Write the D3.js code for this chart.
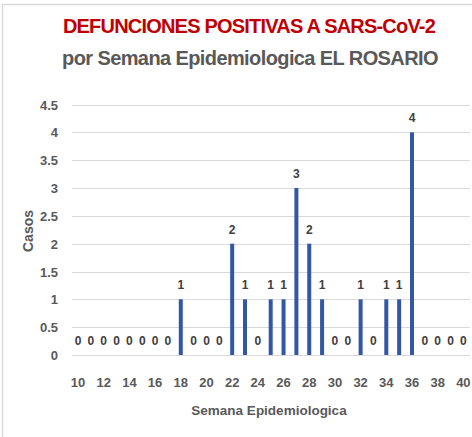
<!DOCTYPE html>
<html>
<head>
<meta charset="utf-8">
<script src="https://cdn.jsdelivr.net/npm/d3@7"></script>
<style>
  html, body { margin: 0; padding: 0; background: #fff; }
  svg { display: block; }
  text { font-family: "Liberation Sans", "DejaVu Sans", sans-serif; }
</style>
</head>
<body>
<svg id="chart" width="472" height="437"></svg>
<script>
// Semanas epidemiológicas y defunciones por semana
const weeks = d3.range(10, 41);
const deaths = [0,0,0,0,0,0,0,0,1,0,0,0,2,1,0,1,1,3,2,1,0,0,1,0,1,1,4,0,0,0,0];
const yTicks = [0,0.5,1,1.5,2,2.5,3,3.5,4,4.5];
const xTickLabels = d3.range(10, 41, 2);

const titleLine1 = "DEFUNCIONES POSITIVAS A SARS-CoV-2";
const titleLine2 = "por Semana Epidemiologica EL ROSARIO";
const xTitle = "Semana Epidemiologica";
const yTitle = "Casos";

const svg = d3.select("#chart");
const W = 472, H = 437;

// marco del gráfico
svg.append("path")
  .attr("d", `M2.5,${H} V4.5 H${W}`)
  .attr("fill", "none").attr("stroke", "#d9d9d9").attr("stroke-width", 1.5);

const x = d3.scaleBand().domain(weeks).range([71.6, 469.8]);
const y = d3.scaleLinear().domain([0, 4.5]).range([355, 104.5]);

// líneas de cuadrícula
svg.append("g").selectAll("line").data(yTicks).join("line")
  .attr("x1", 72).attr("x2", 470)
  .attr("y1", d => Math.round(y(d)) + 0.5).attr("y2", d => Math.round(y(d)) + 0.5)
  .attr("stroke", "#d9d9d9").attr("stroke-width", 1);

// etiquetas del eje Y
svg.append("g").selectAll("text").data(yTicks).join("text")
  .attr("x", 58).attr("y", d => y(d) + 5)
  .attr("text-anchor", "end")
  .attr("font-size", 13).attr("font-weight", "bold").attr("fill", "#595959")
  .text(d => d);

// etiquetas del eje X (semanas pares)
svg.append("g").selectAll("text").data(xTickLabels).join("text")
  .attr("x", d => x(d) + x.bandwidth() / 2).attr("y", 387)
  .attr("text-anchor", "middle")
  .attr("font-size", 13).attr("font-weight", "bold").attr("fill", "#595959")
  .text(d => d);

// barras
const bw = 4;
svg.append("g").selectAll("rect").data(weeks.map((w, i) => ({w, v: deaths[i]}))).join("rect")
  .attr("x", d => x(d.w) + x.bandwidth() / 2 - bw / 2)
  .attr("width", bw)
  .attr("y", d => y(d.v))
  .attr("height", d => y(0) - y(d.v))
  .attr("fill", "#3157a6");

// etiquetas de datos
svg.append("g").selectAll("text").data(weeks.map((w, i) => ({w, v: deaths[i]}))).join("text")
  .attr("x", d => x(d.w) + x.bandwidth() / 2)
  .attr("y", d => y(d.v) - 10)
  .attr("text-anchor", "middle")
  .attr("font-size", 12).attr("font-weight", "bold").attr("fill", "#404040")
  .text(d => d.v);

// títulos
svg.append("text").attr("x", 249).attr("y", 33)
  .attr("text-anchor", "middle").attr("font-size", 20).attr("font-weight", "bold")
  .attr("letter-spacing", -0.8)
  .attr("fill", "#c00000").text(titleLine1);
svg.append("text").attr("x", 250).attr("y", 65)
  .attr("text-anchor", "middle").attr("font-size", 20).attr("font-weight", "bold")
  .attr("letter-spacing", -0.6)
  .attr("fill", "#595959").text(titleLine2);

svg.append("text").attr("x", 269).attr("y", 415)
  .attr("text-anchor", "middle").attr("font-size", 13.5).attr("font-weight", "bold")
  .attr("fill", "#595959").text(xTitle);
svg.append("text").attr("transform", "translate(33,231) rotate(-90)")
  .attr("text-anchor", "middle").attr("font-size", 14).attr("font-weight", "bold")
  .attr("fill", "#595959").text(yTitle);
</script>
</body>
</html>
